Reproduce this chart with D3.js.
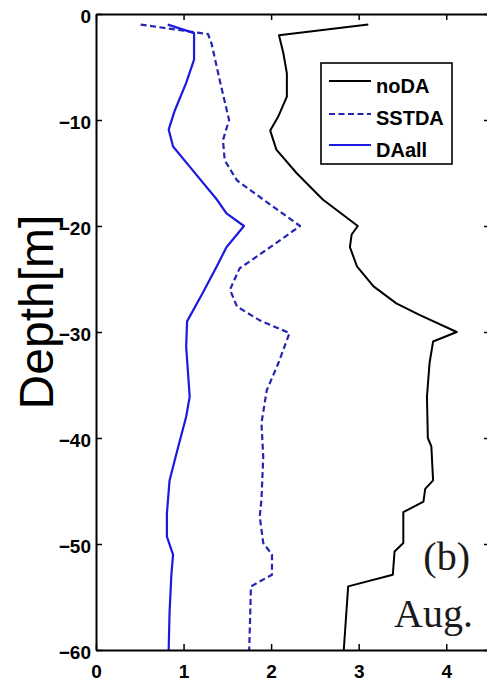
<!DOCTYPE html>
<html>
<head>
<meta charset="utf-8">
<script src="https://cdn.jsdelivr.net/npm/d3@7"></script>
<style>
  html, body { margin: 0; padding: 0; background: #fff; }
  svg { display: block; }
</style>
</head>
<body>
<svg id="chart" width="487" height="682"></svg>
<script>
// ---- data (value, depth) ----
const seriesNames = ["noDA", "SSTDA", "DAall"];

const noDAValues = [3.11, 2.09, 2.14, 2.18, 2.18, 2.08, 1.99, 2.06, 2.29, 2.59, 2.99, 2.92, 2.90, 2.98, 3.17, 3.43, 3.70, 4.12, 3.85, 3.81, 3.78, 3.79, 3.83, 3.85, 3.76, 3.74, 3.51, 3.51, 3.41, 3.39, 2.88, 2.83];
const noDADepths = [-1, -2, -3.7, -5.6, -7.8, -9.7, -11, -12.8, -15, -17.5, -20, -20.8, -22, -23.8, -25.7, -27.3, -28.4, -30, -30.9, -32.9, -36.1, -40, -40.8, -44, -44.8, -46, -47, -49.9, -50.7, -52.9, -54, -60];

const sstdaValues = [0.51, 1.28, 1.32, 1.42, 1.52, 1.45, 1.47, 1.61, 1.91, 2.33, 1.99, 1.64, 1.53, 1.61, 1.87, 2.21, 2.08, 1.95, 1.89, 1.91, 1.89, 1.87, 1.91, 2.01, 2.01, 1.77, 1.75];
const sstdaDepths = [-1, -1.9, -2.8, -6.5, -10, -11.9, -13.8, -15.7, -17.5, -20, -22, -24, -26, -27.6, -28.9, -30.1, -33, -35.5, -38.6, -41.8, -45.8, -47.4, -49.9, -51, -52.9, -54, -60];

const daallValues = [0.82, 1.12, 1.12, 1.03, 0.90, 0.83, 0.88, 1.07, 1.38, 1.49, 1.69, 1.49, 1.38, 1.22, 1.04, 1.03, 1.07, 1.03, 0.94, 0.84, 0.81, 0.81, 0.88, 0.86, 0.84, 0.83];
const daallDepths = [-1, -1.8, -4.3, -6.5, -9.1, -10.9, -12.5, -14.4, -17.5, -18.8, -20, -22, -23.8, -26.3, -29, -31.4, -36.1, -38, -40.8, -44, -47.1, -49.3, -51, -53, -56.5, -60];

const xTicks = [0, 1, 2, 3, 4];
const yTicks = [0, -10, -20, -30, -40, -50, -60];
const yLabel = "Depth[m]";
const panelLabel = "(b)";
const monthLabel = "Aug.";

(function () {
// ---- layout ----
const svg = d3.select("#chart");
const mLeft = 96, mRight = 490, mTop = 14, mBottom = 650;
const x = d3.scaleLinear().domain([0, 4.5]).range([mLeft, mRight]);
const y = d3.scaleLinear().domain([-60, 0]).range([mBottom, mTop]);

const tickFont = "'Liberation Sans', Arial, Helvetica, sans-serif";

// curves
const line = d3.line().x(d => x(d[0])).y(d => y(d[1]));
const zip = (a, b) => a.map((v, i) => [v, b[i]]);

const styles = {
  noDA:  { color: "#000000", dash: null, width: 2 },
  SSTDA: { color: "#2525b5", dash: "6,3.5", width: 2.2 },
  DAall: { color: "#1a1ae0", dash: null, width: 2.2 }
};
const seriesData = {
  noDA: zip(noDAValues, noDADepths),
  SSTDA: zip(sstdaValues, sstdaDepths),
  DAall: zip(daallValues, daallDepths)
};

const plot = svg.append("g");
seriesNames.forEach(name => {
  const s = styles[name];
  plot.append("path")
    .datum(seriesData[name])
    .attr("d", line)
    .attr("fill", "none")
    .attr("stroke", s.color)
    .attr("stroke-width", s.width)
    .attr("stroke-linejoin", "round")
    .attr("stroke-dasharray", s.dash);
});

// axes
function styleAxis(g) {
  g.selectAll(".domain").attr("stroke", "#000").attr("stroke-width", 2);
  g.selectAll(".tick line").attr("stroke", "#000").attr("stroke-width", 1.5);
  g.selectAll("text").attr("font-family", tickFont).attr("font-weight", "bold")
    .attr("font-size", 19).attr("fill", "#000");
}

svg.append("g").attr("transform", `translate(0,${mBottom})`)
  .call(d3.axisBottom(x).tickValues(xTicks).tickFormat(d3.format("d"))
    .tickSizeInner(-6).tickSizeOuter(0).tickPadding(15))
  .call(styleAxis);

svg.append("g").attr("transform", `translate(0,${mTop})`)
  .call(d3.axisTop(x).tickValues(xTicks).tickFormat("")
    .tickSizeInner(-6).tickSizeOuter(0))
  .call(styleAxis);

const yAx = svg.append("g").attr("transform", `translate(${mLeft},0)`)
  .call(d3.axisLeft(y).tickValues(yTicks).tickFormat(d3.format("d"))
    .tickSizeInner(-6).tickSizeOuter(0).tickPadding(5))
  .call(styleAxis);
yAx.selectAll("text").attr("dy", "0.45em");

svg.append("g").attr("transform", `translate(${mRight},0)`)
  .call(d3.axisRight(y).tickValues(yTicks).tickFormat("")
    .tickSizeInner(-6).tickSizeOuter(0))
  .call(styleAxis);

// y label
svg.append("text")
  .attr("transform", `translate(53,${(mTop + mBottom) / 2 - 20}) rotate(-90)`)
  .attr("text-anchor", "middle")
  .attr("font-family", "'Liberation Sans', Arial, Helvetica, sans-serif")
  .attr("font-size", 48)
  .attr("fill", "#000")
  .text(yLabel);

// legend
const lg = svg.append("g");
lg.append("rect")
  .attr("x", 321).attr("y", 63).attr("width", 131).attr("height", 101)
  .attr("fill", "#fff").attr("stroke", "#000").attr("stroke-width", 1.6);
const legendLineY = [81, 114, 145];
const legendTextY = [93, 125, 157];
seriesNames.forEach((name, i) => {
  const s = styles[name];
  lg.append("line")
    .attr("x1", 329).attr("x2", 371)
    .attr("y1", legendLineY[i]).attr("y2", legendLineY[i])
    .attr("stroke", s.color).attr("stroke-width", s.width)
    .attr("stroke-dasharray", s.dash);
  lg.append("text")
    .attr("x", 376).attr("y", legendTextY[i])
    .attr("font-family", tickFont).attr("font-weight", "bold")
    .attr("font-size", 20).attr("fill", "#000")
    .text(name);
});

// panel annotations
svg.append("text")
  .attr("x", 470).attr("y", 570)
  .attr("text-anchor", "end")
  .attr("font-family", "'Liberation Serif', 'Times New Roman', serif")
  .attr("font-size", 40).attr("fill", "#1a1a1a")
  .text(panelLabel);
svg.append("text")
  .attr("x", 473).attr("y", 627)
  .attr("text-anchor", "end")
  .attr("font-family", "'Liberation Serif', 'Times New Roman', serif")
  .attr("font-size", 40).attr("fill", "#1a1a1a")
  .text(monthLabel);
})();
</script>
</body>
</html>
